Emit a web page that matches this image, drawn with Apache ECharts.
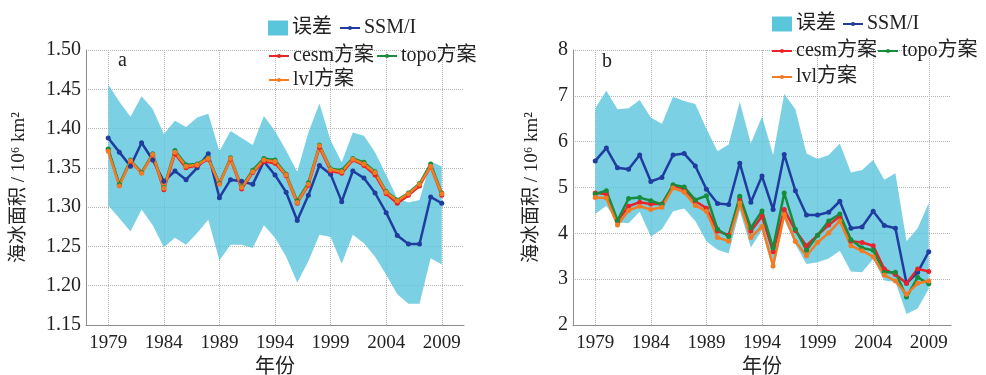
<!DOCTYPE html>
<html>
<head>
<meta charset="utf-8">
<script src="https://cdn.jsdelivr.net/npm/echarts@6/dist/echarts.min.js"></script>
<style>
  html, body { margin: 0; padding: 0; background: #fff; }
  #chart { width: 986px; height: 375px; }
</style>
</head>
<body>
<div id="chart"></div>
<script>
// x axis categories (two padding years each side, like the original axis range)
const axisYears = [1977, 1978, 1979, 1980, 1981, 1982, 1983, 1984, 1985, 1986, 1987, 1988,
  1989, 1990, 1991, 1992, 1993, 1994, 1995, 1996, 1997, 1998, 1999, 2000, 2001, 2002,
  2003, 2004, 2005, 2006, 2007, 2008, 2009, 2010, 2011];
const tickYears = [1979, 1984, 1989, 1994, 1999, 2004, 2009];

// panel a, 1979-2009
const ssmiA = [1.388, 1.370, 1.352, 1.382, 1.360, 1.333, 1.346, 1.335, 1.350, 1.368,
  1.312, 1.335, 1.333, 1.329, 1.358, 1.341, 1.319, 1.283, 1.315, 1.353,
  1.342, 1.307, 1.346, 1.337, 1.318, 1.293, 1.264, 1.253, 1.253, 1.313, 1.305];
const cesmA = [1.373, 1.328, 1.358, 1.344, 1.366, 1.322, 1.368, 1.350, 1.353, 1.361,
  1.330, 1.361, 1.323, 1.344, 1.358, 1.356, 1.340, 1.305, 1.328, 1.376,
  1.346, 1.343, 1.360, 1.353, 1.341, 1.317, 1.305, 1.315, 1.327, 1.352, 1.315];
const topoA = [1.374, 1.329, 1.360, 1.344, 1.368, 1.325, 1.372, 1.354, 1.355, 1.363,
  1.330, 1.363, 1.326, 1.347, 1.362, 1.360, 1.342, 1.308, 1.331, 1.379,
  1.349, 1.347, 1.362, 1.357, 1.345, 1.320, 1.309, 1.318, 1.330, 1.355, 1.318];
const lvlA = [1.371, 1.327, 1.359, 1.343, 1.367, 1.324, 1.370, 1.352, 1.354, 1.362,
  1.329, 1.362, 1.325, 1.345, 1.360, 1.358, 1.341, 1.306, 1.329, 1.378,
  1.348, 1.345, 1.361, 1.355, 1.344, 1.319, 1.308, 1.317, 1.329, 1.352, 1.317];
const errHighA = [1.456, 1.434, 1.415, 1.441, 1.425, 1.393, 1.410, 1.402, 1.414, 1.419,
  1.371, 1.397, 1.388, 1.379, 1.416, 1.397, 1.372, 1.345, 1.395, 1.432,
  1.385, 1.357, 1.395, 1.391, 1.370, 1.341, 1.311, 1.306, 1.309, 1.358, 1.352];
const errLowA = [1.302, 1.286, 1.269, 1.297, 1.277, 1.249, 1.261, 1.252, 1.267, 1.284,
  1.232, 1.252, 1.252, 1.248, 1.277, 1.261, 1.237, 1.204, 1.231, 1.265,
  1.262, 1.228, 1.265, 1.254, 1.237, 1.214, 1.189, 1.177, 1.177, 1.235, 1.227];

// panel b, 1979-2009
const ssmiB = [5.58, 5.86, 5.43, 5.40, 5.71, 5.13, 5.22, 5.71, 5.74, 5.47,
  4.96, 4.65, 4.63, 5.53, 4.68, 5.25, 4.52, 5.72, 4.93, 4.40,
  4.40, 4.46, 4.70, 4.11, 4.14, 4.48, 4.17, 4.11, 2.91, 3.15, 3.60];
const cesmB = [4.88, 4.86, 4.27, 4.59, 4.68, 4.64, 4.64, 5.04, 4.97, 4.70,
  4.55, 4.05, 3.96, 4.76, 4.05, 4.37, 3.60, 4.52, 4.06, 3.73,
  3.96, 4.18, 4.37, 3.83, 3.80, 3.73, 3.22, 3.10, 2.91, 3.22, 3.17];
const topoB = [4.86, 4.93, 4.28, 4.76, 4.78, 4.71, 4.63, 5.06, 5.01, 4.73,
  4.82, 4.09, 3.93, 4.81, 4.12, 4.49, 3.68, 4.88, 4.09, 3.63,
  3.96, 4.27, 4.42, 3.86, 3.68, 3.63, 3.15, 3.15, 2.61, 3.04, 2.90];
const lvlB = [4.78, 4.77, 4.18, 4.50, 4.59, 4.52, 4.57, 4.99, 4.90, 4.61,
  4.48, 3.91, 3.83, 4.66, 3.91, 4.15, 3.29, 4.41, 3.82, 3.51,
  3.80, 4.01, 4.27, 3.73, 3.62, 3.49, 3.09, 2.96, 2.67, 2.91, 2.96];
const errHighB = [6.73, 7.11, 6.71, 6.73, 6.91, 6.53, 6.39, 6.98, 6.89, 6.82,
  6.28, 5.79, 5.94, 6.87, 5.96, 6.55, 5.71, 7.04, 6.71, 5.74,
  5.62, 5.71, 5.96, 5.33, 5.38, 5.60, 5.17, 5.31, 3.83, 4.11, 4.66];
const errLowB = [4.42, 4.60, 4.24, 4.22, 4.47, 3.93, 4.09, 4.48, 4.54, 4.27,
  3.83, 3.64, 3.56, 4.50, 3.69, 4.07, 3.19, 4.30, 3.76, 3.33,
  3.37, 3.45, 3.62, 3.17, 3.15, 3.44, 2.97, 2.94, 2.24, 2.36, 2.79];

const FONT = '"Liberation Serif", "Noto Sans CJK SC", serif';
const TEXT = '#222';
const BAND = '#5ac6dc';
const C_SSMI = '#1f3c9e';
const C_CESM = '#ea2229';
const C_TOPO = '#168c3c';
const C_LVL = '#f47b22';

const pad = arr => [null, null].concat(arr, [null, null]);
const isTick = (i, v) => tickYears.indexOf(+v) >= 0;

const chart = echarts.init(document.getElementById('chart'));

function lineSeries(name, data, color, idx) {
  return {
    name, type: 'line', xAxisIndex: idx, yAxisIndex: idx,
    data: pad(data),
    symbol: 'circle', symbolSize: 5,
    lineStyle: { width: 2.5, color },
    itemStyle: { color },
    z: 3
  };
}

function bandSeries(lo, hi, idx) {
  return [
    {
      name: '误差下', type: 'line', xAxisIndex: idx, yAxisIndex: idx,
      stack: 'band' + idx, data: pad(lo), symbol: 'none',
      lineStyle: { opacity: 0 }, silent: true, z: 1
    },
    {
      name: '误差', type: 'line', xAxisIndex: idx, yAxisIndex: idx,
      stack: 'band' + idx, data: pad(hi.map((v, i) => +(v - lo[i]).toFixed(3))),
      symbol: 'none', lineStyle: { opacity: 0 },
      itemStyle: { color: BAND },
      areaStyle: { color: BAND, opacity: 0.8 }, silent: true, z: 1
    }
  ];
}

function legendItem(name, left, centerY, rect) {
  return {
    left, top: centerY - 11, padding: 0,
    data: [rect ? { name, icon: 'rect' } : name],
    itemWidth: 20, itemHeight: rect ? 15 : 5,
    selectedMode: false,
    textStyle: { fontFamily: FONT, fontSize: 20, color: TEXT, padding: [0, 0, 0, -1] }
  };
}

function xAxis(idx) {
  return {
    type: 'category', gridIndex: idx, data: axisYears.map(String), boundaryGap: false,
    name: '年份', nameLocation: 'middle', nameGap: 32,
    nameTextStyle: { fontFamily: FONT, fontSize: 20, color: TEXT },
    axisLine: { lineStyle: { color: '#8c8c8c' } },
    axisTick: { show: false },
    axisLabel: { interval: isTick, fontFamily: FONT, fontSize: 19, color: TEXT, margin: 9 },
    splitLine: { show: true, interval: isTick, lineStyle: { type: 'dotted', color: '#b4b4b4' } }
  };
}

function yAxis(idx, min, max, step, digits, gap) {
  return {
    type: 'value', gridIndex: idx, min, max, interval: step,
    name: '海冰面积 / 10⁶ km²', nameLocation: 'middle', nameGap: gap,
    nameTextStyle: { fontFamily: FONT, fontSize: 19, color: TEXT },
    axisLine: { show: true, lineStyle: { color: '#8c8c8c' } },
    axisTick: { show: false },
    axisLabel: { fontFamily: FONT, fontSize: 20, color: TEXT, margin: 5,
      formatter: v => v.toFixed(digits) },
    splitLine: { lineStyle: { type: 'dotted', color: '#b4b4b4' } }
  };
}

const option = {
  animation: false,
  backgroundColor: '#fff',
  grid: [
    { left: 86, top: 50, width: 378, height: 275, outerBoundsMode: 'none' },
    { left: 573, top: 50, width: 378, height: 275, outerBoundsMode: 'none' }
  ],
  xAxis: [xAxis(0), xAxis(1)],
  yAxis: [yAxis(0, 1.15, 1.5, 0.05, 2, 57), yAxis(1, 2, 8, 1, 0, 31)],
  legend: [
    legendItem('误差', 268, 29, true),
    legendItem('SSM/I', 339, 29),
    legendItem('cesm方案', 268, 57),
    legendItem('topo方案', 376, 57),
    legendItem('lvl方案', 268, 81),
    legendItem('误差', 772, 25, true),
    legendItem('SSM/I', 842, 25),
    legendItem('cesm方案', 771, 52),
    legendItem('topo方案', 877, 52),
    legendItem('lvl方案', 771, 78)
  ],
  graphic: [
    { type: 'text', left: 118, top: 51, style: { text: 'a', font: '20px "Liberation Serif"', fill: TEXT } },
    { type: 'text', left: 602, top: 52, style: { text: 'b', font: '20px "Liberation Serif"', fill: TEXT } }
  ],
  series: [
    ...bandSeries(errLowA, errHighA, 0),
    lineSeries('SSM/I', ssmiA, C_SSMI, 0),
    lineSeries('cesm方案', cesmA, C_CESM, 0),
    lineSeries('topo方案', topoA, C_TOPO, 0),
    lineSeries('lvl方案', lvlA, C_LVL, 0),
    ...bandSeries(errLowB, errHighB, 1),
    lineSeries('SSM/I', ssmiB, C_SSMI, 1),
    lineSeries('cesm方案', cesmB, C_CESM, 1),
    lineSeries('topo方案', topoB, C_TOPO, 1),
    lineSeries('lvl方案', lvlB, C_LVL, 1)
  ]
};

chart.setOption(option);
window.addEventListener('resize', () => chart.resize());
</script>
</body>
</html>
